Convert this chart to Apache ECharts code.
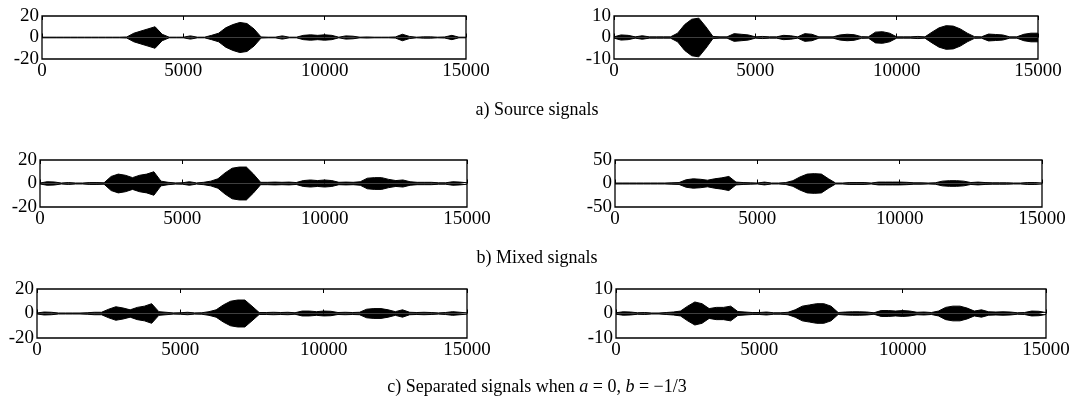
<!DOCTYPE html>
<html>
<head>
<meta charset="utf-8">
<script src="https://cdn.jsdelivr.net/npm/echarts@6/dist/echarts.min.js"></script>
<style>
    html,body{margin:0;padding:0;background:#fff;}
    #chart{width:1074px;height:398px;}
</style>
</head>
<body>
<div id="chart"></div>
<script>
// sample index of each envelope reading (every 250 samples)
const samplePos = [0,250,500,750,1000,1250,1500,1750,2000,2250,2500,2750,3000,3250,3500,3750,4000,4250,4500,4750,
    5000,5250,5500,5750,6000,6250,6500,6750,7000,7250,7500,7750,8000,8250,8500,8750,9000,9250,9500,9750,
    10000,10250,10500,10750,11000,11250,11500,11750,12000,12250,12500,12750,13000,13250,13500,13750,14000,14250,14500,14750,15000];

// envelope amplitude
const srcLeft = [0.3,0.3,0.3,0.3,0.3,0.3,0.3,0.3,0.3,0.3,0.3,0.3,0.5,4,6,8,10,3,0.3,0.3,
    0.3,1.5,0.3,0.3,2,4,9,12,14,13,8,0.5,0.3,0.3,1.5,0.3,0.3,2,2.5,2,
    2.5,2,0.3,1.5,1.2,0.3,0.5,0.3,0.3,0.3,0.5,3,1,0.3,0.6,0.6,0.3,0.5,2,0.3,0.3];
const srcRight = [0.3,1.2,1,0.3,0.8,0.3,0.3,0.3,0.3,2,6,8.5,9,5,0.5,0.3,0.3,1.8,1.5,1.2,
    0.3,0.5,0.3,0.3,1,0.8,0.3,1.8,1.5,0.3,0.3,0.3,1.2,1.5,1.3,0.4,0.3,2.5,2.7,2,
    0.3,0.3,0.3,0.5,0.3,2.5,4.5,5.5,5.3,4,2,0.4,0.3,1.6,1.4,1.2,0.3,0.3,1.5,2,2];
const mixLeft = [0.4,1.5,1.3,0.4,0.8,0.4,0.4,0.8,0.8,0.6,6,8,7,5,7,8,10,2,1,0.5,
    0.6,1.5,0.5,1,2,4,9,13,14,14,8,1,1,1.2,1,1.2,0.8,2.5,3,2.5,
    3,2.5,1,1.2,1,1.5,4.5,5,5,3.5,2.5,3,1.5,1,1,1,0.6,0.6,1.5,1.2,0.6];
const mixRight = [1,1,1,1,1,1,1,1,1.5,2,8,10,9,7,10,12,15,3,2,1.5,
    1,3,1,1,2,6,14,20,21,20,10,1,1,2,2,2,1,3,3,3,
    3,2.5,1.5,1.5,1,1.5,5,6,6,5,2,3,2,1.5,1.5,1.5,1,1,2,2,1];
const sepLeft = [0.4,1.2,1,0.4,0.4,0.4,0.4,0.6,1,1,3.5,5.5,4.5,3,5,6,8,1.5,1,0.5,
    0.6,1,0.5,0.6,1.5,3,7,10,11,11,6,0.8,0.8,1,0.8,1,0.6,2,2,1.5,
    2,1.8,0.8,1,0.8,1,3.5,4,4,3,1.5,3,1,0.8,1,0.8,0.5,0.8,1.5,1,0.5];
const sepRight = [0.3,0.7,0.6,0.3,0.4,0.2,0.2,0.4,0.6,1,3,4.7,4,2,2.5,2.5,3,0.8,0.6,0.4,
    0.4,0.6,0.3,0.3,0.5,1.5,3,3.5,4,4,3,0.4,0.6,0.7,0.7,0.6,0.3,1.2,1.2,1,
    1.2,1,0.5,0.6,0.4,1,2.5,3,3,2.2,1,1.5,0.7,0.6,0.7,0.6,0.3,0.4,1,0.9,0.4];

const panelData = [srcLeft, srcRight, mixLeft, mixRight, sepLeft, sepRight];
const yLimits = [20, 10, 20, 50, 20, 10];
const captions = ['a) Source signals', 'b) Mixed signals', 'c) Separated signals when {i|a} = 0, {i|b} = −1/3'];

const grids = [
    {left:42, top:16, width:424, height:43},
    {left:614, top:16, width:424, height:43},
    {left:40, top:160, width:427, height:47},
    {left:615, top:160, width:427, height:47},
    {left:37, top:289, width:430, height:49},
    {left:616, top:289, width:430, height:49}
];
const captionTop = [111, 259, 388];

const serifFont = '"Liberation Serif", "DejaVu Serif", serif';

let xAxes = [], yAxes = [], series = [];
grids.forEach(function(g, i){
    xAxes.push({
        gridIndex:i, type:'value', min:0, max:15000, interval:5000,
        axisLine:{show:false},
        axisTick:{show:true, inside:true, length:4, lineStyle:{color:'#000'}},
        axisLabel:{color:'#000', fontSize:19, fontFamily:serifFont, margin:3,
            formatter:function(v){ return String(v); }},
        splitLine:{show:false}
    });
    xAxes.push({
        gridIndex:i, type:'value', min:0, max:15000, interval:5000, position:'top',
        axisLine:{show:false},
        axisTick:{show:true, inside:true, length:4, lineStyle:{color:'#000'}},
        axisLabel:{show:false},
        splitLine:{show:false}
    });
    yAxes.push({
        gridIndex:i, type:'value', min:-yLimits[i], max:yLimits[i], interval:yLimits[i],
        axisLine:{show:false},
        axisTick:{show:false},
        axisLabel:{color:'#000', fontSize:19, fontFamily:serifFont, margin:3,
            formatter:function(v){ return String(v); }},
        splitLine:{show:false}
    });
    const d = panelData[i];
    series.push({
        type:'line', xAxisIndex:i*2, yAxisIndex:i, symbol:'none', silent:true,
        lineStyle:{color:'#000', width:1},
        areaStyle:{color:'#000', opacity:1},
        data: samplePos.map(function(x, k){ return [x, d[k]]; })
    });
    series.push({
        type:'line', xAxisIndex:i*2, yAxisIndex:i, symbol:'none', silent:true,
        lineStyle:{color:'#000', width:1},
        areaStyle:{color:'#000', opacity:1},
        data: samplePos.map(function(x, k){ return [x, -d[k]]; })
    });
});

const option = {
    animation:false,
    backgroundColor:'#fff',
    grid: grids.map(function(g){
        return Object.assign({show:true, borderColor:'#000', borderWidth:1.3, backgroundColor:'transparent'}, g);
    }),
    xAxis: xAxes,
    yAxis: yAxes,
    series: series,
    graphic: captions.map(function(t, i){
        return {
            type:'text', left:'center', top:captionTop[i] - 10,
            style:{
                text:t, fill:'#000', font:'18px ' + serifFont,
                rich:{ i:{fontStyle:'italic', fontSize:18, fontFamily:serifFont} }
            }
        };
    })
};

let chart = echarts.init(document.getElementById('chart'));
chart.setOption(option);
window.addEventListener('resize', function(){
    chart.resize();
});
</script>
</body>
</html>
